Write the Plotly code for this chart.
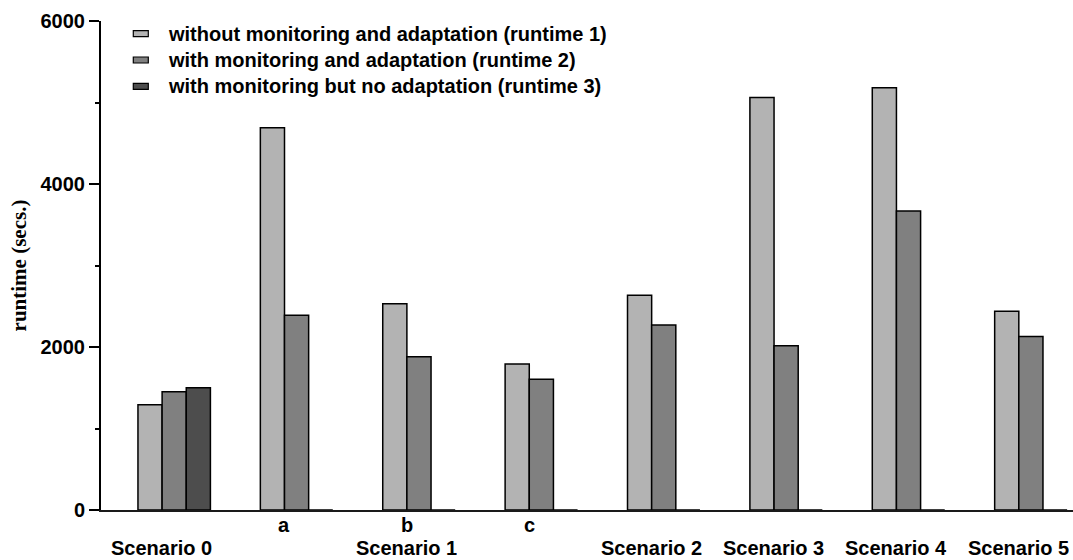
import plotly.graph_objects as go

# Runtime measurements per scenario / sub-scenario (seconds)
sub_labels = ["", "a", "b", "c", "", "", "", ""]
scenario_labels = ["Scenario 0", "", "Scenario 1", "", "Scenario 2", "Scenario 3", "Scenario 4", "Scenario 5"]
runtime1 = [1290, 4690, 2530, 1790, 2635, 5060, 5180, 2440]
runtime2 = [1450, 2390, 1880, 1605, 2270, 2015, 3670, 2130]
runtime3 = [1500, 0, 0, 0, 0, 0, 0, 0]
series_names = [
    "without monitoring and adaptation (runtime 1)",
    "with monitoring and adaptation (runtime 2)",
    "with monitoring but no adaptation (runtime 3)",
]
series_colors = ["#b3b3b3", "#808080", "#4d4d4d"]

SANS = "Liberation Sans, Arial, sans-serif"
SERIF = "Liberation Serif, Times New Roman, serif"
W, H = 1073, 560
M_L, M_R, M_T, M_B = 101, 0, 21, 50
PLOT_W = W - M_L - M_R
PLOT_H = H - M_T - M_B


def px_x(px):
    """Pixel column -> paper x."""
    return (px - M_L) / PLOT_W


def px_y(py):
    """Pixel row -> paper y."""
    return (H - M_B - py) / PLOT_H


positions = list(range(len(runtime1)))
label_shift = -0.1  # category labels sit slightly left of each group's centre

fig = go.Figure()
for name, values, color in zip(series_names, [runtime1, runtime2, runtime3], series_colors):
    fig.add_trace(go.Bar(
        x=positions, y=values, name=name, showlegend=False,
        marker=dict(color=color, line=dict(color="#000000", width=1.5)),
    ))

# Two rows of category labels: sub-case letters, then scenario names
for row_text, row_center in ((sub_labels, 525), (scenario_labels, 548)):
    for pos, text in zip(positions, row_text):
        if text:
            fig.add_annotation(
                x=pos + label_shift, y=px_y(row_center), xref="x", yref="paper",
                text=f"<b>{text}</b>", showarrow=False, height=22,
                xanchor="center", yanchor="middle",
                font=dict(family=SANS, size=20, color="#000000"),
            )

# Legend: flat swatches with black outline next to bold labels
legend_rows = [33.7, 60.0, 86.3]
for name, color, row in zip(series_names, series_colors, legend_rows):
    fig.add_shape(
        type="rect", xref="paper", yref="paper",
        x0=px_x(133.3), x1=px_x(148.3), y0=px_y(row + 3), y1=px_y(row - 3),
        fillcolor=color, line=dict(color="#000000", width=1.2),
    )
    fig.add_annotation(
        x=px_x(166), y=px_y(row), xref="paper", yref="paper",
        text=f"<b>{name}</b>", showarrow=False, height=24,
        xanchor="left", yanchor="middle",
        font=dict(family=SANS, size=20, color="#000000"),
    )

fig.update_layout(
    width=W, height=H,
    margin=dict(l=M_L, r=M_R, t=M_T, b=M_B),
    paper_bgcolor="#ffffff", plot_bgcolor="#ffffff",
    barmode="group", bargap=0.408, bargroupgap=0,
    font=dict(family=SANS, size=20, color="#000000"),
    showlegend=False,
    xaxis=dict(
        range=[-0.598, 7.344],
        showticklabels=False, ticks="", showgrid=False, zeroline=False,
        showline=True, linecolor="#1a1a1a", linewidth=2,
    ),
    yaxis=dict(
        range=[0, 6000],
        tickmode="array", tickvals=[0, 2000, 4000, 6000],
        ticktext=["<b>0</b>", "<b>2000</b>", "<b>4000</b>", "<b>6000</b>"],
        ticks="outside", ticklen=10, tickwidth=1.5, tickcolor="#000000",
        minor=dict(tickmode="array", tickvals=[1000, 3000, 5000],
                   ticks="outside", ticklen=4, tickwidth=1.5, tickcolor="#000000", showgrid=False),
        showgrid=False, zeroline=False,
        showline=True, linecolor="#000000", linewidth=2,
        tickfont=dict(family=SANS, size=20, color="#000000"),
        title=dict(text="<b>runtime (secs.)</b>", standoff=8,
                   font=dict(family=SERIF, size=21, color="#000000")),
    ),
)

fig.write_html("out.html")
